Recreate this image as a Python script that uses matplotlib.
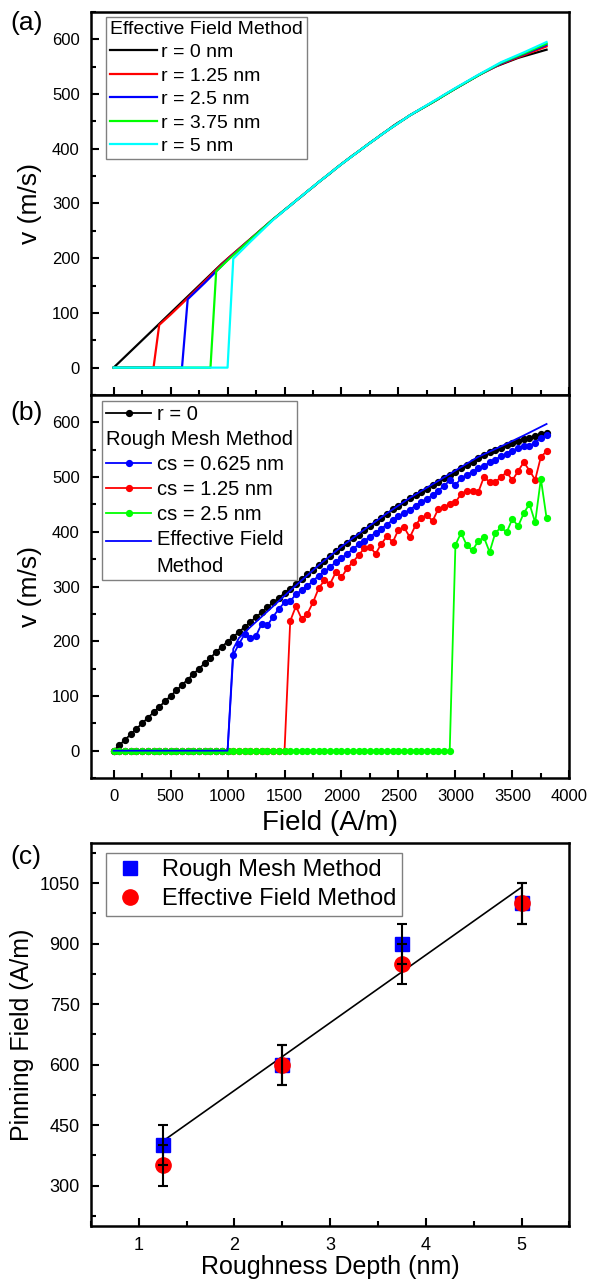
import matplotlib
matplotlib.use('Agg')
import matplotlib.pyplot as plt
import numpy as np
from matplotlib.ticker import MultipleLocator

plt.rcParams['font.family'] = ['Liberation Sans', 'DejaVu Sans']

# ---------------- data ----------------
# applied field (A/m) used for panel (b) and the r = 0 curve
field = [0, 50, 100, 150, 200, 250, 300, 350, 400, 450,
         500, 550, 600, 650, 700, 750, 800, 850, 900, 950,
         1000, 1050, 1100, 1150, 1200, 1250, 1300, 1350, 1400, 1450,
         1500, 1550, 1600, 1650, 1700, 1750, 1800, 1850, 1900, 1950,
         2000, 2050, 2100, 2150, 2200, 2250, 2300, 2350, 2400, 2450,
         2500, 2550, 2600, 2650, 2700, 2750, 2800, 2850, 2900, 2950,
         3000, 3050, 3100, 3150, 3200, 3250, 3300, 3350, 3400, 3450,
         3500, 3550, 3600, 3650, 3700, 3750, 3800]

v_r0 = [0, 10, 20, 30, 40, 50, 60, 70, 80, 90,
        100, 110, 120, 130, 140, 150, 160, 170, 180, 190,
        199, 208, 217, 226, 235, 244, 253, 262, 271, 279,
        288, 296, 305, 313, 322, 330, 339, 347, 355, 364,
        372, 380, 388, 395, 403, 411, 418, 426, 433, 441,
        448, 454, 461, 467, 473, 479, 485, 491, 498, 504,
        510, 516, 522, 528, 534, 540, 545, 550, 554, 558,
        562, 566, 569, 572, 575, 578, 581]

v_cs0625 = [0, 0, 0, 0, 0, 0, 0, 0, 0, 0,
            0, 0, 0, 0, 0, 0, 0, 0, 0, 0,
            0, 175, 195, 213, 206, 210, 232, 229, 245, 259,
            271, 273, 286, 293, 301, 310, 320, 328, 335, 345,
            352, 360, 368, 377, 383, 391, 398, 406, 413, 422,
            428, 435, 440, 448, 455, 460, 467, 475, 484, 494,
            485, 498, 504, 510, 516, 520, 527, 532, 538, 543,
            548, 553, 556, 557, 563, 572, 576]

v_cs125 = [0, 0, 0, 0, 0, 0, 0, 0, 0, 0,
           0, 0, 0, 0, 0, 0, 0, 0, 0, 0,
           0, 0, 0, 0, 0, 0, 0, 0, 0, 0,
           0, 237, 264, 241, 250, 271, 297, 311, 305, 326,
           317, 333, 345, 357, 370, 372, 360, 378, 392, 381,
           404, 408, 390, 412, 426, 430, 420, 442, 446, 450,
           454, 469, 475, 475, 472, 500, 491, 491, 500, 509,
           494, 511, 527, 512, 495, 537, 547]

v_cs25 = [0, 0, 0, 0, 0, 0, 0, 0, 0, 0,
          0, 0, 0, 0, 0, 0, 0, 0, 0, 0,
          0, 0, 0, 0, 0, 0, 0, 0, 0, 0,
          0, 0, 0, 0, 0, 0, 0, 0, 0, 0,
          0, 0, 0, 0, 0, 0, 0, 0, 0, 0,
          0, 0, 0, 0, 0, 0, 0, 0, 0, 0,
          376, 398, 375, 366, 383, 390, 363, 398, 408, 399,
          424, 410, 434, 451, 417, 497, 425]

# effective field method curves (panel a)
field_r125 = [0, 350, 400, 500, 600, 800, 1000, 1200, 1400, 1600, 1800,
              2000, 2200, 2400, 2600, 2800, 3000, 3200, 3400, 3600, 3800]
v_r125 = [0, 0, 78, 97, 117, 158, 199, 235, 271, 305, 339,
          372, 403, 433, 461, 485, 510, 534, 555, 571, 587]

field_r25 = [0, 600, 650, 800, 1000, 1200, 1400, 1600, 1800,
             2000, 2200, 2400, 2600, 2800, 3000, 3200, 3400, 3600, 3800]
v_r25 = [0, 0, 125, 155, 197, 234, 271, 305, 339,
         372, 403, 433, 461, 485, 510, 534, 556, 573, 590]

field_r375 = [0, 850, 900, 1000, 1200, 1400, 1600, 1800,
              2000, 2200, 2400, 2600, 2800, 3000, 3200, 3400, 3600, 3800]
v_r375 = [0, 0, 176, 196, 234, 271, 305, 339,
          372, 403, 433, 461, 485, 510, 534, 557, 574, 592]

field_r5 = [0, 1000, 1050, 1200, 1400, 1600, 1800,
            2000, 2200, 2400, 2600, 2800, 3000, 3200, 3400, 3600, 3800]
v_r5 = [0, 0, 199, 230, 270, 305, 339,
        372, 403, 433, 461, 486, 511, 535, 558, 576, 595]

# effective field method line in panel (b)
field_ef = [0, 1000, 1050, 1100, 1150, 1200, 1300, 1400, 1500, 1600, 1800,
            2000, 2200, 2400, 2600, 2800, 3000, 3200, 3400, 3600, 3800]
v_ef = [0, 0, 186, 206, 216, 226, 245, 264, 283, 302, 339,
        373, 404, 434, 462, 487, 512, 537, 556, 576, 597]

# panel (c)
depth = [1.25, 2.5, 3.75, 5]
pin_rough = [400, 600, 900, 1000]
pin_eff = [350, 600, 850, 1000]
pin_err = [50, 50, 50, 50]

# ---------------- figure ----------------
fig = plt.figure(figsize=(5.9, 12.82), dpi=100)
L, W, H = 0.154, 0.811, 0.2988
ax_a = fig.add_axes([L, 0.6919, W, H])
ax_b = fig.add_axes([L, 0.3931, W, H])
ax_c = fig.add_axes([L, 0.0437, W, H])


def style(ax, fs=12):
    for s in ax.spines.values():
        s.set_linewidth(1.8)
    ax.tick_params(which='both', direction='in', top=False, right=False,
                   width=1.5, labelsize=fs, pad=8)
    ax.tick_params(which='major', length=6)
    ax.tick_params(which='minor', length=3.5)


# ---- (a) ----
ax_a.plot(field, v_r0, color='black', lw=1.6, label='r = 0 nm')
ax_a.plot(field_r125, v_r125, color='#ff0000', lw=1.6, label='r = 1.25 nm')
ax_a.plot(field_r25, v_r25, color='#0000ff', lw=1.6, label='r = 2.5 nm')
ax_a.plot(field_r375, v_r375, color='#00ff00', lw=1.6, label='r = 3.75 nm')
ax_a.plot(field_r5, v_r5, color='#00ffff', lw=1.6, label='r = 5 nm')
ax_a.set_xlim(-200, 4000)
ax_a.set_ylim(-50, 650)
ax_a.xaxis.set_major_locator(MultipleLocator(500))
ax_a.xaxis.set_minor_locator(MultipleLocator(250))
ax_a.yaxis.set_major_locator(MultipleLocator(100))
ax_a.yaxis.set_minor_locator(MultipleLocator(50))
style(ax_a)
ax_a.tick_params(labelbottom=False)
ax_a.set_ylabel('v (m/s)', fontsize=19, labelpad=7)
leg_a = ax_a.legend(title='Effective Field Method', loc='upper left',
                    bbox_to_anchor=(0.032, 0.987), borderaxespad=0,
                    fontsize=14, title_fontsize=14, handlelength=2.4,
                    handletextpad=0.2, labelspacing=0.3, borderpad=0.2,
                    fancybox=False, framealpha=1, edgecolor='#808080')
leg_a.get_frame().set_linewidth(1.0)
leg_a._legend_box.align = 'left'

# ---- (b) ----
mk = dict(marker='o', ms=4.2, lw=1.3)
h0, = ax_b.plot(field, v_r0, color='black', label='r = 0', **mk)
hdr, = ax_b.plot([], [], ls='none', label='Rough Mesh Method')
h1, = ax_b.plot(field, v_cs0625, color='#0000ff', label='cs = 0.625 nm', **mk)
h2, = ax_b.plot(field, v_cs125, color='#ff0000', label='cs = 1.25 nm', **mk)
h3, = ax_b.plot(field, v_cs25, color='#00ff00', label='cs = 2.5 nm', **mk)
h4, = ax_b.plot(field_ef, v_ef, color='#0000ff', lw=1.3,
                label='Effective Field\nMethod')
ax_b.set_xlim(-200, 4000)
ax_b.set_ylim(-50, 650)
ax_b.xaxis.set_major_locator(MultipleLocator(500))
ax_b.xaxis.set_minor_locator(MultipleLocator(250))
ax_b.yaxis.set_major_locator(MultipleLocator(100))
ax_b.yaxis.set_minor_locator(MultipleLocator(50))
style(ax_b)
ax_b.set_ylabel('v (m/s)', fontsize=19, labelpad=7)
ax_b.set_xlabel('Field (A/m)', fontsize=20, labelpad=4)
leg_b = ax_b.legend(handles=[h0, hdr, h1, h2, h3, h4], loc='upper left',
                    bbox_to_anchor=(0.024, 0.984), borderaxespad=0,
                    fontsize=14.5, handlelength=2.2, handletextpad=0.3,
                    labelspacing=0.3, borderpad=0.2,
                    fancybox=False, framealpha=1, edgecolor='#808080')
leg_b.get_frame().set_linewidth(1.0)
leg_b.get_texts()[-1].set_linespacing(1.5)
# header row without a handle
row = leg_b._legend_handle_box.get_children()[0].get_children()[1]
row.sep = 0
row.get_children()[0].width = 0
# put the handle of the two-line entry level with its first line
ef_line = leg_b.get_lines()[-1]
ef_line.set_ydata(np.asarray(ef_line.get_ydata()) + 9)

# ---- (c) ----
slope, icpt = np.polyfit(depth, pin_rough, 1)
fit_x = np.array([depth[0], depth[-1]])
ax_c.plot(fit_x, slope * fit_x + icpt, color='black', lw=1.2, zorder=1)
hs, = ax_c.plot(depth, pin_rough, ls='none', marker='s', ms=9.5,
                color='#0000ff', label='Rough Mesh Method', zorder=2)
hc, = ax_c.plot(depth, pin_eff, ls='none', marker='o', ms=11,
                color='#ff0000', label='Effective Field Method', zorder=2.5)
ax_c.errorbar(depth, pin_rough, yerr=pin_err, fmt='none', ecolor='black',
              elinewidth=1.5, capsize=3.5, capthick=1.5, zorder=3)
ax_c.errorbar(depth, pin_eff, yerr=pin_err, fmt='none', ecolor='black',
              elinewidth=1.5, capsize=3.5, capthick=1.5, zorder=3)
ax_c.set_xlim(0.5, 5.5)
ax_c.set_ylim(200, 1150)
ax_c.xaxis.set_major_locator(MultipleLocator(1))
ax_c.xaxis.set_minor_locator(MultipleLocator(0.5))
ax_c.yaxis.set_major_locator(MultipleLocator(150))
ax_c.yaxis.set_minor_locator(MultipleLocator(75))
style(ax_c, fs=13)
ax_c.set_xticks([1, 2, 3, 4, 5])
ax_c.set_yticks([300, 450, 600, 750, 900, 1050])
ax_c.set_ylabel('Pinning Field (A/m)', fontsize=18)
ax_c.set_xlabel('Roughness Depth (nm)', fontsize=18, labelpad=1)
leg_c = ax_c.legend(handles=[hs, hc], loc='upper left',
                    bbox_to_anchor=(0.032, 0.974), borderaxespad=0,
                    fontsize=17, handlelength=1.5, handletextpad=0.6,
                    labelspacing=0.3, borderpad=0.25,
                    fancybox=False, framealpha=1, edgecolor='#808080')
leg_c.get_frame().set_linewidth(1.0)

# panel letters
fig.text(0.018, 0.982, '(a)', fontsize=19, va='center')
fig.text(0.018, 0.678, '(b)', fontsize=19, va='center')
fig.text(0.018, 0.3315, '(c)', fontsize=19, va='center')

fig.savefig('out.png', dpi=100)
